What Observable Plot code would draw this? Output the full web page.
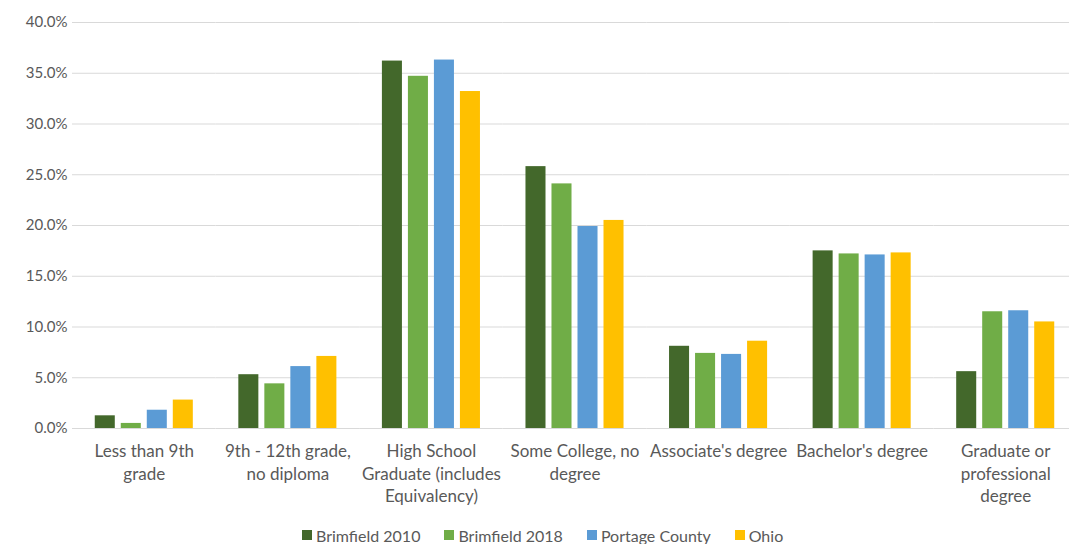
<!DOCTYPE html>
<html>
<head>
<meta charset="utf-8">
<script src="https://cdn.jsdelivr.net/npm/d3@7"></script>
<script src="https://cdn.jsdelivr.net/npm/@observablehq/plot@0.6"></script>
<style>
  html, body { margin: 0; padding: 0; background: #fff; }
  #chart { width: 1069px; overflow: hidden; }
  .legend { display: flex; align-items: center; padding-left: 302px; height: 30px; font-family: Lato, sans-serif; font-size: 16px; color: #595959; }
  .legend .item { display: flex; align-items: center; margin-right: 24px; }
  .legend .sw { width: 10px; height: 10px; margin-right: 4px; }
</style>
</head>
<body>
<div id="chart"></div>
<script>
const categories = [
  "Less than 9th grade",
  "9th - 12th grade, no diploma",
  "High School Graduate (includes Equivalency)",
  "Some College, no degree",
  "Associate's degree",
  "Bachelor's degree",
  "Graduate or professional degree"
];
const categoryLabels = [
  "Less than 9th\ngrade",
  "9th - 12th grade,\nno diploma",
  "High School\nGraduate (includes\nEquivalency)",
  "Some College, no\ndegree",
  "Associate's degree",
  "Bachelor's degree",
  "Graduate or\nprofessional\ndegree"
];
const seriesNames = ["Brimfield 2010", "Brimfield 2018", "Portage County", "Ohio"];
const seriesColors = ["#43682B", "#70AD47", "#5B9BD5", "#FFC000"];
const brimfield2010 = [0.0125, 0.053, 0.362, 0.258, 0.081, 0.175, 0.056];
const brimfield2018 = [0.005, 0.044, 0.347, 0.241, 0.074, 0.172, 0.115];
const portageCounty = [0.018, 0.061, 0.363, 0.199, 0.073, 0.171, 0.116];
const ohio = [0.028, 0.071, 0.332, 0.205, 0.086, 0.173, 0.105];
const yTicks = [0, 0.05, 0.10, 0.15, 0.20, 0.25, 0.30, 0.35, 0.40];

const seriesValues = [brimfield2010, brimfield2018, portageCounty, ohio];
const data = [];
categories.forEach((c, i) => {
  seriesNames.forEach((s, j) => {
    data.push({category: c, series: s, value: seriesValues[j][i]});
  });
});
const labelOf = new Map(categories.map((c, i) => [c, categoryLabels[i]]));

const chart = Plot.plot({
  width: 1069,
  height: 520,
  marginTop: 22,
  marginBottom: 92,
  marginLeft: 72,
  marginRight: 0,
  style: {fontFamily: "Lato, sans-serif", fontSize: "15px", color: "#595959", background: "#fff"},
  fx: {domain: categories, range: [72, 1077], padding: 0, round: false},
  x: {domain: seriesNames, paddingInner: 0.23, paddingOuter: 0.875, round: false, axis: null},
  y: {domain: [0, 0.40], ticks: yTicks},
  color: {domain: seriesNames, range: seriesColors},
  marks: [
    Plot.gridY(yTicks, {stroke: "#d9d9d9", strokeOpacity: 1, strokeWidth: 1}),
    Plot.barY(data, {fx: "category", x: "series", y: "value", fill: "series"}),
    Plot.axisY(yTicks, {tickSize: 0, tickPadding: 5, tickFormat: d3.format(".1%"), label: null, fill: "#595959", fontSize: 15}),
    Plot.axisFx({anchor: "bottom", tickSize: 0, tickPadding: 13, label: null, tickFormat: (d) => labelOf.get(d), lineHeight: 1.32, fill: "#595959", fontSize: 17})
  ]
});
document.getElementById("chart").appendChild(chart);

const legend = document.createElement("div");
legend.className = "legend";
seriesNames.forEach((s, j) => {
  const item = document.createElement("div");
  item.className = "item";
  const sw = document.createElement("span");
  sw.className = "sw";
  sw.style.background = seriesColors[j];
  const t = document.createElement("span");
  t.textContent = s;
  item.appendChild(sw);
  item.appendChild(t);
  legend.appendChild(item);
});
document.getElementById("chart").appendChild(legend);
</script>
</body>
</html>
